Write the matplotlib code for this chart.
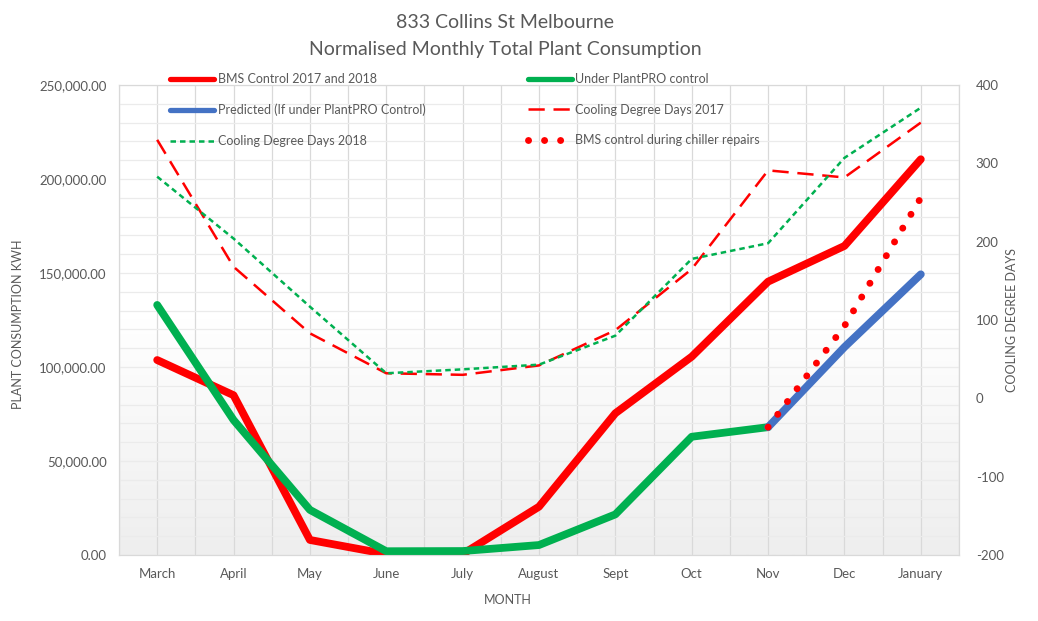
import numpy as np
import matplotlib
matplotlib.use("Agg")
import matplotlib.pyplot as plt
from matplotlib.colors import LinearSegmentedColormap
from matplotlib.ticker import FuncFormatter, MultipleLocator

plt.rcParams['font.family'] = ['Lato', 'DejaVu Sans']
plt.rcParams['axes.unicode_minus'] = False

nan = np.nan

# dados
months = ["March", "April", "May", "June", "July", "August", "Sept", "Oct", "Nov", "Dec", "January"]
bms_control = [103700, 85000, 8000, 500, 500, 25700, 75400, 105500, 145400, 164400, 210500]
plantpro = [133000, 71800, 24000, 2000, 2100, 5300, 21600, 62900, 68000, nan, nan]
predicted = [nan, nan, nan, nan, nan, nan, nan, nan, 68000, 110600, 149300]
chiller_repairs = [nan, nan, nan, nan, nan, nan, nan, nan, 68000, 121800, 190000]
cdd_2017 = [330, 168, 83, 32, 30, 42, 87, 165, 291, 282, 352]
cdd_2018 = [283, 204, 117, 32, 37, 43, 80, 178, 198, 307, 371]

grey = "#595959"
red = "#FF0000"
green = "#00B050"
blue = "#4472C4"

fig = plt.figure(figsize=(10.38, 6.21), dpi=100)
ax = fig.add_axes([119/1038, 1-555/621, 840/1038, 470/621])
ax2 = ax.twinx()

x = np.arange(len(months))

# fundo em degradê
cmap = LinearSegmentedColormap.from_list("bg", ["#ffffff", "#ffffff", "#eeeeee"])
ax.imshow(np.linspace(0, 1, 256).reshape(-1, 1), cmap=cmap, extent=[0, 1, 0, 1],
          transform=ax.transAxes, aspect="auto", zorder=0)

thick = dict(lw=5.6, solid_capstyle="round", solid_joinstyle="round")
l1, = ax.plot(x, bms_control, color=red, label="BMS Control 2017 and 2018", zorder=3, **thick)
l2, = ax.plot(x, plantpro, color=green, label="Under PlantPRO control", zorder=4, **thick)
l3, = ax.plot(x, predicted, color=blue, label="Predicted (If under PlantPRO Control)", zorder=5, **thick)

l4, = ax2.plot(x, cdd_2017, color=red, lw=1.8, ls=(0, (6.5, 3.5)),
               label="Cooling Degree Days 2017", zorder=3)
l5, = ax2.plot(x, cdd_2018, color=green, lw=1.8, ls=(0, (2.2, 1.6)),
               label="Cooling Degree Days 2018", zorder=4)
# série no eixo da esquerda, convertida para a escala do eixo da direita
l6, = ax2.plot(x, [v * (600 / 250000) - 200 for v in chiller_repairs], color=red, lw=5,
               ls=(0, (0.01, 2.3)), dash_capstyle="round",
               label="BMS control during chiller repairs", zorder=2)

ax.set_xlim(-0.5, 10.5)
ax.set_ylim(0, 250000)
ax2.set_ylim(-200, 400)

ax.set_xticks(x)
ax.set_xticklabels(months)
ax.xaxis.set_minor_locator(MultipleLocator(0.5))
ax.yaxis.set_major_locator(MultipleLocator(50000))
ax.yaxis.set_minor_locator(MultipleLocator(10000))
ax.yaxis.set_major_formatter(FuncFormatter(lambda v, p: f"{v:,.2f}"))
ax2.yaxis.set_major_locator(MultipleLocator(100))

ax.grid(which="both", axis="x", color="#d9d9d9", lw=0.9, zorder=1)
ax.grid(which="both", axis="y", color="#ebebeb", lw=0.9, zorder=1)
ax.set_axisbelow(True)

for a in (ax, ax2):
    for s in a.spines.values():
        s.set_color("#d9d9d9")
        s.set_linewidth(0.8)
    a.tick_params(which="both", length=0, colors=grey, labelsize=9.5)
ax.tick_params(axis="x", pad=9)
ax.tick_params(axis="y", pad=9)
ax2.tick_params(axis="y", pad=12)

ax.set_xlabel("MONTH", color=grey, fontsize=9)
ax.xaxis.set_label_coords(0.463, -0.084)
ax.set_ylabel("PLANT CONSUMPTION KWH", color=grey, fontsize=9)
ax.yaxis.set_label_coords(-0.113, 0.49)
ax2.set_ylabel("COOLING DEGREE DAYS", color=grey, fontsize=9, rotation=90)
ax2.yaxis.set_label_coords(1.056, 0.5)

fig.text(505/1038, 1-23/621, "833 Collins St Melbourne", ha="center", va="center",
         color=grey, fontsize=14)
fig.text(505/1038, 1-49/621, "Normalised Monthly Total Plant Consumption", ha="center",
         va="center", color=grey, fontsize=14)

handles = [l1, l3, l5, l2, l4, l6]
leg = ax2.legend(handles=handles, ncol=2, frameon=False, loc="upper left",
                 bbox_to_anchor=(170/1038, 1-73/621), bbox_transform=fig.transFigure,
                 fontsize=9, handlelength=3.5, handletextpad=0.3, borderpad=0,
                 borderaxespad=0, labelspacing=1.5, columnspacing=8.2)
for t in leg.get_texts():
    t.set_color(grey)
for h in leg.legend_handles[:2] + leg.legend_handles[3:4]:
    h.set_linewidth(3.8)

fig.savefig("out.png", dpi=100)
